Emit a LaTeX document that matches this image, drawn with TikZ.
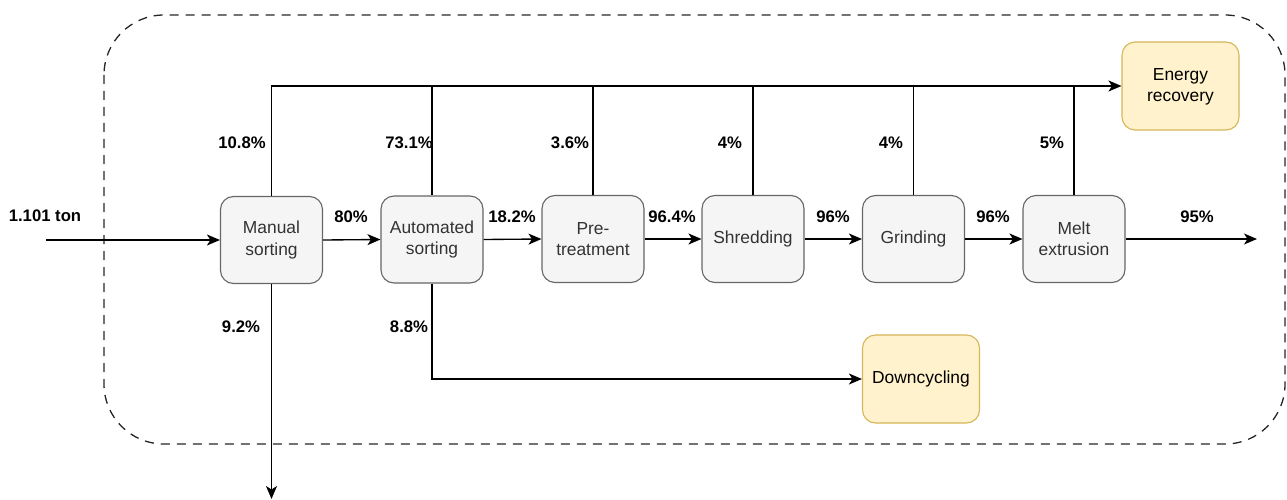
\documentclass[tikz,border=0pt]{standalone}
\usepackage{fontspec}
\setmainfont{Liberation Sans}
\usetikzlibrary{arrows.meta}
\definecolor{procfill}{HTML}{F5F5F5}
\definecolor{procline}{HTML}{666666}
\definecolor{proctext}{HTML}{333333}
\definecolor{outfill}{HTML}{FFF2CC}
\definecolor{outline}{HTML}{D6B656}
\begin{document}
\begin{tikzpicture}[x=1pt,y=-1pt,
  proc/.style={draw=procline,fill=procfill,text=proctext,line width=1.1pt,rounded corners=13pt,
    minimum width=102pt,minimum height=87pt,inner sep=0pt,align=center,
    font=\fontsize{17.4}{21.5}\selectfont},
  sink/.style={proc,draw=outline,fill=outfill,text=black,minimum width=117pt,minimum height=88pt},
  pct/.style={font=\fontsize{16.7}{20}\selectfont\bfseries,inner sep=0pt},
  flow/.style={line width=1.35pt},
  arr/.style={flow,-{Stealth[length=13pt,width=11pt,inset=3.5pt]}},
  boundary/.style={line width=1.3pt,draw=black!85,dash pattern=on 9pt off 7pt,rounded corners=60pt}]
\useasboundingbox (0,0) rectangle (1287,500);

% system boundary
\draw[boundary] (104,15) rectangle (1285,444);

% process chain
\node[proc] (ms) at (271.5,240) {Manual\\sorting};
\node[proc] (as) at (432,239.5) {Automated\\sorting};
\node[proc] (pt) at (593,239) {Pre-\\treatment};
\node[proc] (sh) at (753,239) {Shredding};
\node[proc] (gr) at (913.5,239) {Grinding};
\node[proc] (me) at (1074,239) {Melt\\extrusion};

% end-of-life outlets
\node[sink] (er) at (1180.5,86) {\rule{0pt}{14pt}Energy\\recovery};
\node[sink] (dc) at (921,379) {Downcycling};

% free ends
\coordinate (in) at (46,240);
\coordinate (out) at (1257,239);
\coordinate (loss) at (271.5,499);

% main flow
\draw[arr] (in) -- (ms.west);
\draw[arr] (ms.east) -- (as.west);
\draw[arr] (as.east) -- (pt.west);
\draw[arr] (pt.east) -- (sh.west);
\draw[arr] (sh.east) -- (gr.west);
\draw[arr] (gr.east) -- (me.west);
\draw[arr] (me.east) -- (out);

% rejects to energy recovery
\draw[arr] (ms.north) |- (er.west);
\foreach \n in {as,pt,sh,gr,me}
  \draw[flow] (\n.north) -- (\n.north |- er.west);

% other outflows
\draw[arr] (ms.south) -- (loss);
\draw[arr] (as.south) |- (dc.west);

% mass fractions
\node[pct] (l0) at (45,216) {1.101 ton};
\node[pct] (l1) at (242,143) {10.8\%};
\node[pct] (l2) at (409,143) {73.1\%};
\node[pct] (l3) at (570,143) {3.6\%};
\node[pct] (l4) at (730,143) {4\%};
\node[pct] (l5) at (891,143) {4\%};
\node[pct] (l6) at (1052,143) {5\%};
\node[pct] (l7) at (351,217) {80\%};
\node[pct] (l8) at (512,217) {18.2\%};
\node[pct] (l9) at (672,217) {96.4\%};
\node[pct] (l10) at (833,217) {96\%};
\node[pct] (l11) at (993,217) {96\%};
\node[pct] (l12) at (1197,217) {95\%};
\node[pct] (l13) at (241,327) {9.2\%};
\node[pct] (l14) at (409,327) {8.8\%};
\end{tikzpicture}
\end{document}
